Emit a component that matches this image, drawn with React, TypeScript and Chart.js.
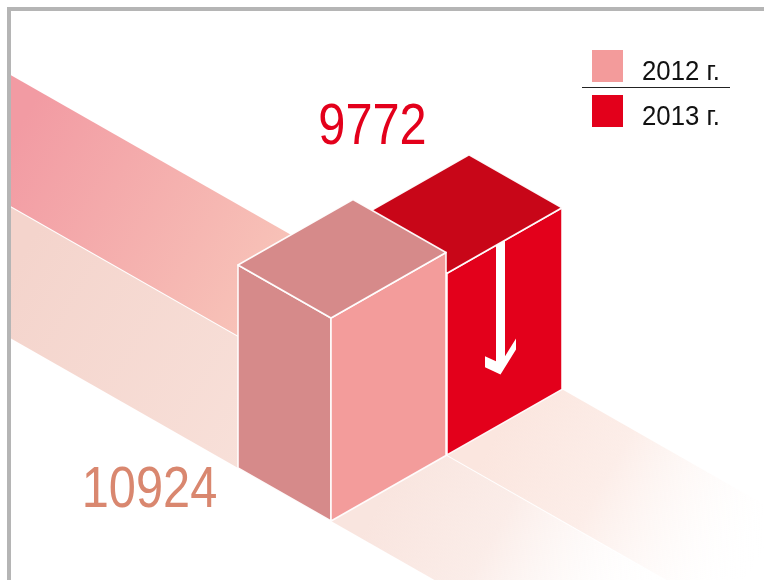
import React, { useEffect, useRef } from 'react';
import { Chart, registerables } from 'chart.js';

Chart.register(...registerables);

// ---- data ----
const categories = ['2012 г.', '2013 г.'];
const values = [10924, 9772];
const legendLabels = ['2012 г.', '2013 г.'];

// ---- styles ----
const FRAME = '#b5b5b5';
const CUBE_COLORS = [
  { top: '#d68a8a', left: '#d68a8a', right: '#f39c9b' },
  { top: '#c80618', left: '#c80618', right: '#e3001b' },
];
const SWATCH = ['#f39b9b', '#e3001b'];
const LABEL_COLORS = ['#d9876f', '#e3001b'];
const BAND_LEFT = [
  ['#f4d4cc', '#f8e1da'],
  ['#f29ba3', '#f8c6ba'],
];
const BAND_RIGHT = ['rgba(249,229,223,1)', 'rgba(251,230,223,1)'];

const SLOPE = 0.57;
const DEPTH = 93;
const FONT = '"Liberation Sans", Arial, "DejaVu Sans", sans-serif';

type P = { x: number; y: number };

function poly(ctx: CanvasRenderingContext2D, pts: P[]) {
  ctx.beginPath();
  ctx.moveTo(pts[0].x, pts[0].y);
  for (let i = 1; i < pts.length; i++) ctx.lineTo(pts[i].x, pts[i].y);
  ctx.closePath();
}

function condText(
  ctx: CanvasRenderingContext2D,
  text: string,
  x: number,
  y: number,
  size: number,
  color: string,
  sx: number,
  align: CanvasTextAlign
) {
  ctx.save();
  ctx.translate(x, y);
  ctx.scale(sx, 1);
  ctx.font = `${size}px ${FONT}`;
  ctx.fillStyle = color;
  ctx.textAlign = align;
  ctx.textBaseline = 'alphabetic';
  ctx.fillText(text, 0, 0);
  ctx.restore();
}

function cubeGeom(chart: any) {
  const bars = chart.getDatasetMeta(0).data;
  const x0 = bars[0].x;
  const spacing = bars.length > 1 ? bars[1].x - bars[0].x : 116;
  const W = spacing - 1;
  return bars.map((bar: any) => {
    const fx = bar.x;
    const by = bar.base - (bar.x - x0) * SLOPE;
    const h = bar.base - bar.y;
    const ty = by - h;
    const F = { x: fx, y: ty };
    const L = { x: fx - DEPTH, y: ty - DEPTH * SLOPE };
    const R = { x: fx + W, y: ty - W * SLOPE };
    const B = { x: fx - DEPTH + W, y: ty - DEPTH * SLOPE - W * SLOPE };
    const Fb = { x: fx, y: by };
    const Lb = { x: fx - DEPTH, y: by - DEPTH * SLOPE };
    const Rb = { x: fx + W, y: by - W * SLOPE };
    return { F, L, R, B, Fb, Lb, Rb, h, W };
  });
}

const isoPlugin = {
  id: 'iso',
  afterDatasetsDraw(chart: any) {
    const ctx: CanvasRenderingContext2D = chart.ctx;
    const cubes = cubeGeom(chart);
    const inner = 11;
    ctx.save();

    ctx.save();
    ctx.beginPath();
    ctx.rect(inner, inner, chart.width - inner, chart.height - inner);
    ctx.clip();

    // floor bands (left part)
    cubes.forEach((c: any, i: number) => {
      const A = { x: inner, y: c.Fb.y - (c.Fb.x - inner) * SLOPE };
      const C = { x: inner, y: c.Rb.y - (c.Rb.x - inner) * SLOPE };
      const midY = (A.y + C.y) / 2;
      const g = ctx.createLinearGradient(inner, midY, inner + 280, midY + 280 * SLOPE);
      g.addColorStop(0, BAND_LEFT[i][0]);
      g.addColorStop(1, BAND_LEFT[i][1]);
      poly(ctx, [A, c.Fb, c.Rb, C]);
      ctx.fillStyle = g;
      ctx.fill();
    });

    // floor bands (right part, fading)
    cubes.forEach((c: any, i: number) => {
      const L = 520;
      const p3 = { x: c.Rb.x + L, y: c.Rb.y + L * SLOPE };
      const p4 = { x: c.Fb.x + L, y: c.Fb.y + L * SLOPE };
      const m = { x: (c.Fb.x + c.Rb.x) / 2, y: (c.Fb.y + c.Rb.y) / 2 };
      const len = 250;
      const g = ctx.createLinearGradient(m.x, m.y, m.x + len, m.y + len * SLOPE);
      g.addColorStop(0, BAND_RIGHT[i]);
      g.addColorStop(0.4, BAND_RIGHT[i].replace(',1)', ',0.7)'));
      g.addColorStop(1, 'rgba(255,255,255,0)');
      poly(ctx, [c.Fb, c.Rb, p3, p4]);
      ctx.fillStyle = g;
      ctx.fill();
    });

    // cubes: back (later index) first
    for (let i = cubes.length - 1; i >= 0; i--) {
      const c = cubes[i];
      const col = CUBE_COLORS[i];
      ctx.lineJoin = 'round';
      ctx.strokeStyle = 'rgba(255,255,255,0.95)';
      ctx.lineWidth = 1.6;
      poly(ctx, [c.L, c.F, c.Fb, c.Lb]);
      ctx.fillStyle = col.left;
      ctx.fill();
      ctx.stroke();
      poly(ctx, [c.F, c.R, c.Rb, c.Fb]);
      ctx.fillStyle = col.right;
      ctx.fill();
      ctx.stroke();
      poly(ctx, [c.L, c.B, c.R, c.F]);
      ctx.fillStyle = col.top;
      ctx.fill();
      ctx.stroke();

      if (i === 1) {
        const uc = 53.5, s = 4.5, au = 15.5, av = 16, k = 11;
        const vt = c.h - 50;
        const r = av / au;
        const face = (u: number, v: number) => ({ x: c.F.x + u, y: c.F.y - u * SLOPE + v });
        const pts = [
          face(uc - s, 0),
          face(uc + s, 0),
          face(uc + s, vt - k - s * r),
          face(uc + au, vt - av - k),
          face(uc + au, vt - av),
          face(uc, vt),
          face(uc - au, vt - av),
          face(uc - au, vt - av - k),
          face(uc - s, vt - k - s * r),
        ];
        poly(ctx, pts);
        ctx.fillStyle = '#ffffff';
        ctx.fill();
      }
    }
    ctx.restore();

    // value labels
    const c0 = cubes[0];
    const c1 = cubes[1];
    condText(ctx, String(values[0]), c0.Fb.x - 181.5, c0.Fb.y - 14, 58, LABEL_COLORS[0], 0.84, 'center');
    condText(ctx, String(values[1]), c1.Fb.x - 74.5, c1.B.y - 11, 58, LABEL_COLORS[1], 0.84, 'center');

    // legend
    const lx = 592;
    const ly = [50, 95];
    legendLabels.forEach((t, i) => {
      ctx.fillStyle = SWATCH[i];
      ctx.fillRect(lx, ly[i], 31, 32);
      condText(ctx, t, 642, ly[i] + 30, 28, '#111111', 0.92, 'left');
    });
    ctx.beginPath();
    ctx.moveTo(582, 87.5);
    ctx.lineTo(730, 87.5);
    ctx.strokeStyle = '#222222';
    ctx.lineWidth = 1;
    ctx.stroke();

    // frame
    ctx.fillStyle = FRAME;
    ctx.fillRect(7, 7, chart.width - 7, 4);
    ctx.fillRect(7, 7, 4, chart.height - 7);

    ctx.restore();
  },
};

export default function App() {
  const ref = useRef<HTMLCanvasElement | null>(null);
  useEffect(() => {
    if (!ref.current) return;
    const chart = new Chart(ref.current, {
      type: 'bar',
      data: {
        labels: categories,
        datasets: [
          {
            label: 'value',
            data: values,
            backgroundColor: 'rgba(0,0,0,0)',
            borderWidth: 0,
          },
        ],
      },
      options: {
        animation: false,
        responsive: false,
        devicePixelRatio: 1,
        events: [],
        layout: { padding: { left: 273, right: 259, top: 10, bottom: 59 } },
        plugins: { legend: { display: false }, tooltip: { enabled: false } },
        scales: {
          x: { display: false, offset: true },
          y: { display: false, min: 0, max: 27500 },
        },
      },
      plugins: [isoPlugin],
    });
    return () => chart.destroy();
  }, []);
  return (
    <div style={{ position: 'fixed', left: 0, top: 0, width: 764, height: 580, background: '#fff' }}>
      <canvas ref={ref} width={764} height={580} style={{ display: 'block' }} />
    </div>
  );
}
